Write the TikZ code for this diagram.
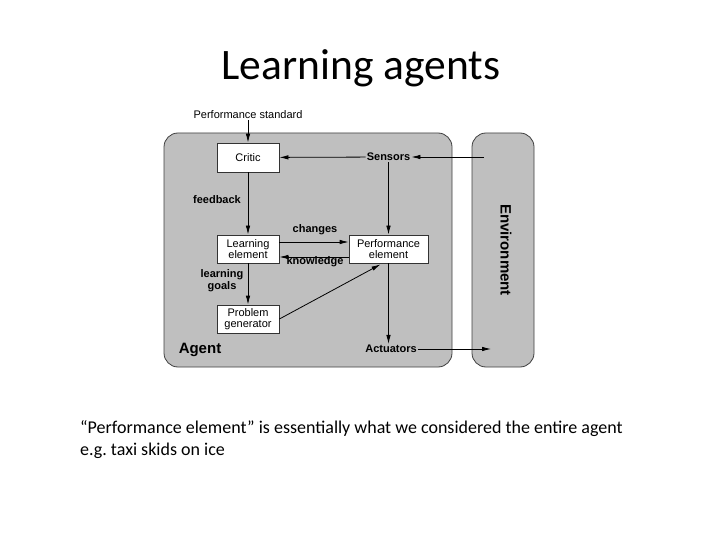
\documentclass[tikz,border=0pt]{standalone}
\usepackage{fontspec}
\setmainfont{Liberation Sans}
\newfontfamily\slidefont{Carlito}
\usetikzlibrary{arrows.meta,calc}
\begin{document}
\begin{tikzpicture}[x=1pt,y=-1pt,
  panel/.style={draw=black!75,fill=black!25,line width=0.8pt,rounded corners=14pt},
  elbox/.style={draw=black!80,fill=white,line width=0.8pt,minimum width=62pt,minimum height=28pt,inner sep=0pt,align=center,font=\fontsize{11}{11.5}\selectfont},
  lbl/.style={inner sep=1pt,align=center,font=\fontsize{11}{12}\selectfont\bfseries},
  conn/.style={draw=black,line width=0.8pt,-{Latex[length=9pt,width=4.5pt]}}]
\useasboundingbox (0,0) rectangle (720,540);
% title
\node[font=\slidefont\fontsize{43.5}{46}\selectfont] (title) at (361,68) {Learning agents};
% panels
\draw[panel] (164,133) rectangle (452,367);
\draw[panel] (472,133) rectangle (534,367);
% boxes
\node[elbox,minimum height=29pt] (critic) at (248,157.5) {Critic};
\node[elbox] (learn) at (248,249) {Learning\\element};
\node[elbox] (prob) at (248,319) {Problem\\generator};
\node[elbox,minimum width=79pt] (perf) at (388.5,249) {Performance\\element};
% labels
\node[inner sep=1pt,font=\fontsize{11}{12}\selectfont] (std) at (248,115) {Performance standard};
\node[lbl] (sensors) at (388.5,157) {Sensors};
\node[lbl] (actuators) at (391,349) {Actuators};
\node[lbl] (feedback) at (217,200) {feedback};
\node[lbl] (changes) at (315,230) {changes};
\node[lbl] (knowledge) at (315,262) {knowledge};
\node[lbl] (goals) at (222,281) {learning\\goals};
\node[inner sep=0pt,font=\fontsize{15}{16}\selectfont\bfseries] (agent) at (200,350) {Agent};
\node[inner sep=0pt,rotate=-90,font=\fontsize{15}{16}\selectfont\bfseries] (env) at (506,250) {Environment};
% free ends
\coordinate (envin) at (484,157);
\coordinate (envout) at (491,349);
% connectors
\draw[conn] (std) -- (critic);
\draw[conn] (envin) -- (sensors);
\draw[conn] (sensors) -- (critic);
\draw[conn] (sensors) -- (perf);
\draw[conn] (critic) -- (learn);
\draw[conn] ($(learn.east)+(0,-7)$) -- ($(perf.west)+(0,-7)$);
\draw[conn] ($(perf.west)+(0,8)$) -- ($(learn.east)+(0,8)$);
\draw[conn] (learn) -- (prob);
\draw[conn] (prob.east) -- ($(perf.south)+(-8,1)$);
\draw[conn] (perf.south) -- (perf.south |- actuators.north);
\draw[conn] (actuators) -- (envout);
% caption
\node[anchor=west,align=left,inner sep=0pt,font=\slidefont\fontsize{18}{22}\selectfont] (cap) at (80,440)
  {“Performance element” is essentially what we considered the entire agent\\e.g.\ taxi skids on ice};
\end{tikzpicture}
\end{document}
